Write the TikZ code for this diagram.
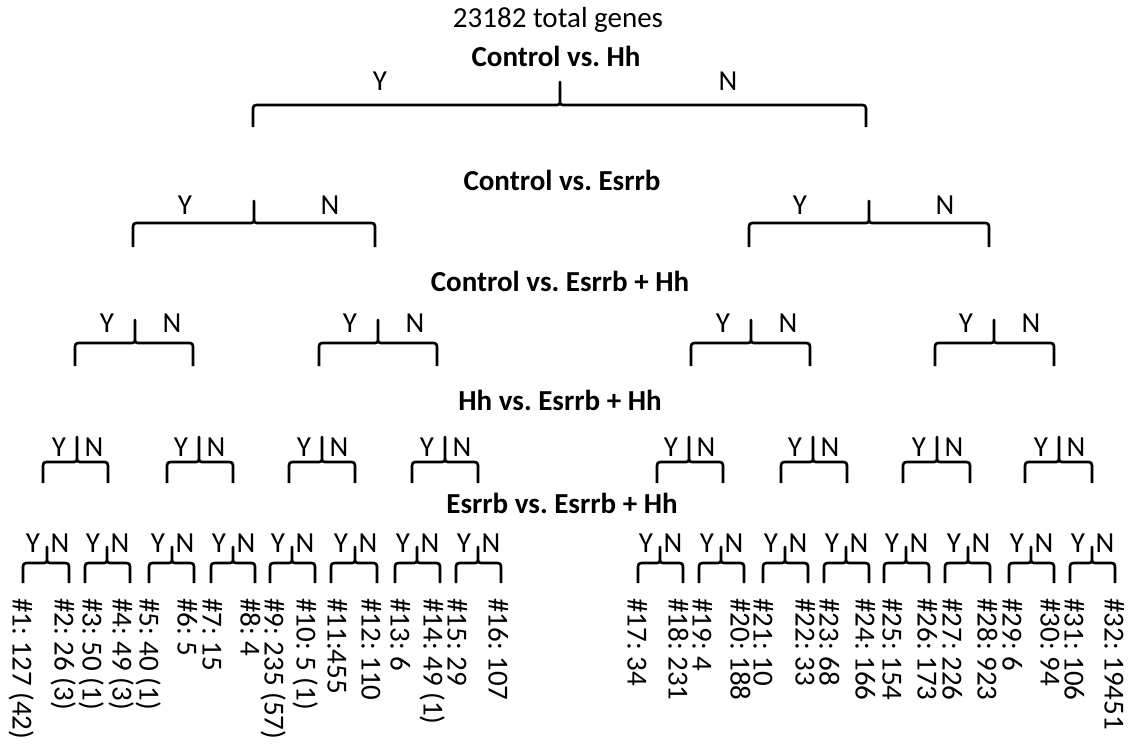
\documentclass[tikz,border=0pt]{standalone}
\usepackage{fontspec}
\setmainfont{Carlito}
\frenchspacing
\newcommand\ybrace[6]{%
  \draw[brc] (#1,#5) -- (#1,{#4+7}) .. controls (#1,#4) .. ({#1+7},#4)
    -- ({#2-6},#4) .. controls (#2,#4) .. (#2,{#4-6}) -- (#2,#6)
    -- (#2,{#4-6}) .. controls (#2,#4) .. ({#2+6},#4)
    -- ({#3-7},#4) .. controls (#3,#4) .. (#3,{#4+7}) -- (#3,#5);}
\tikzset{
  brc/.style={line width=2.7pt, line join=round},
  yn/.style={font=\fontsize{29}{34}\selectfont, inner sep=0pt},
  ttl/.style={font=\fontsize{29}{34}\selectfont\bfseries, inner sep=0pt, anchor=base},
  lbl/.style={font=\fontsize{29}{34}\selectfont, inner sep=0pt, anchor=base west, rotate=-90}
}
\begin{document}
\begin{tikzpicture}[x=1pt,y=-1pt]
\useasboundingbox (0,0) rectangle (1131,748);
% titles
\node[ttl, font=\fontsize{29}{34}\selectfont] (total) at (558,27) {23182 total genes};
\node[ttl] (t1) at (556,66) {Control vs. Hh};
\node[ttl] (t2) at (562,190) {Control vs. Esrrb};
\node[ttl] (t3) at (560,291) {Control vs. Esrrb + Hh};
\node[ttl] (t4) at (560,410) {Hh vs. Esrrb + Hh};
\node[ttl] (t5) at (562,513) {Esrrb vs. Esrrb + Hh};
% level 1
\ybrace{253}{560}{866}{105}{127}{82}
\node[yn] (y1-1) at (380,81) {Y};
\node[yn] (n1-1) at (728,81) {N};
% level 2
\foreach \xl/\xm/\xr [count=\i] in {133/254/375, 749/869/989}{
  \ybrace{\xl}{\xm}{\xr}{223}{247}{201}
  \node[yn] (y2-\i) at (\xm-69,205) {Y};
  \node[yn] (n2-\i) at (\xm+76,205) {N};
}
% level 3
\foreach \xl/\xm/\xr [count=\i] in {75/135/193, 319/378/437, 691/751/810, 935/994/1054}{
  \ybrace{\xl}{\xm}{\xr}{343}{366}{320}
  \node[yn] (y3-\i) at (\xm-28,323) {Y};
  \node[yn] (n3-\i) at (\xm+37,323) {N};
}
% level 4
\foreach \xl/\xm/\xr [count=\i] in {43/77/108, 167/199/233, 289/322/355, 412/445/478,
    657/689/723, 781/813/847, 903/937/970, 1025/1059/1092}{
  \ybrace{\xl}{\xm}{\xr}{462}{483}{437}
  \node[yn] (y4-\i) at (\xm-18,447) {Y};
  \node[yn] (n4-\i) at (\xm+17,447) {N};
}
% level 5
\foreach \xl/\xm/\xr [count=\i] in {23/47/69, 85/107/130, 149/172/194, 211/233/255,
    270/292/315, 331/355/377, 395/417/440, 456/478/501,
    638/660/683, 699/721/744, 763/785/808, 824/846/869,
    884/906/929, 945/968/990, 1009/1031/1054, 1070/1092/1115}{
  \ybrace{\xl}{\xm}{\xr}{563}{583}{547}
  \node[yn] (y5-\i) at (\xm-14,543) {Y};
  \node[yn] (n5-\i) at (\xm+13,543) {N};
}
% result labels
\foreach \x/\t [count=\i] in {22/{\#1: 127 (42)}, 64/{\#2: 26 (3)}, 92/{\#3: 50 (1)}, 122/{\#4: 49 (3)},
    149/{\#5: 40 (1)}, 187/{\#6: 5}, 212/{\#7: 15}, 250/{\#8: 4},
    274/{\#9: 235 (57)}, 306/{\#10: 5 (1)}, 337/{\#11:455}, 371/{\#12: 110},
    400/{\#13: 6}, 433/{\#14: 49 (1)}, 457/{\#15: 29}, 498/{\#16: 107},
    637/{\#17: 34}, 678/{\#18: 231}, 702/{\#19: 4}, 740/{\#20: 188},
    763/{\#21: 10}, 805/{\#22: 33}, 829/{\#23: 68}, 865/{\#24: 166},
    892/{\#25: 154}, 927/{\#26: 173}, 952/{\#27: 226}, 987/{\#28: 923},
    1012/{\#29: 6}, 1050/{\#30: 94}, 1074/{\#31: 106}, 1114/{\#32: 19451}}{
  \node[lbl] (r\i) at (\x-9.3,598) {\t};
}
\end{tikzpicture}
\end{document}
